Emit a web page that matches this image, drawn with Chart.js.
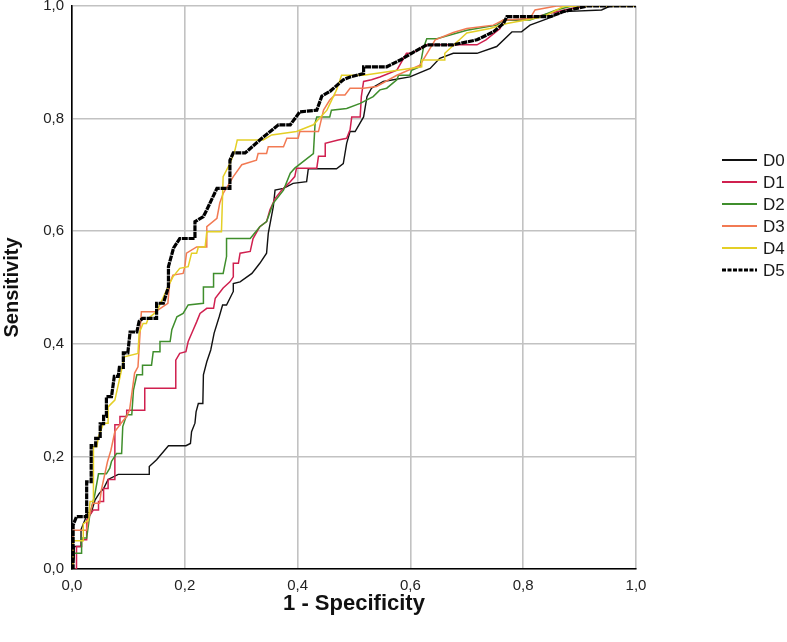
<!DOCTYPE html>
<html>
<head>
<meta charset="utf-8">
<script src="https://cdn.jsdelivr.net/npm/chart.js"></script>
<style>
  html, body { margin: 0; padding: 0; background: #fff; }
  #wrap { width: 787px; height: 642px; }
</style>
</head>
<body>
<div id="wrap"><canvas id="roc" width="787" height="642"></canvas></div>
<script>
// ROC points as [1 - specificity, sensitivity]
const d0 = [[0,0],[0.004,0.02],[0.004,0.04],[0.016,0.04],[0.016,0.07],[0.028,0.10],[0.034,0.10],[0.041,0.123],[0.048,0.134],[0.056,0.143],[0.064,0.159],[0.082,0.168],[0.137,0.168],[0.137,0.182],[0.150,0.194],[0.171,0.219],[0.202,0.219],[0.210,0.223],[0.212,0.244],[0.218,0.259],[0.220,0.279],[0.224,0.294],[0.232,0.294],[0.233,0.345],[0.239,0.368],[0.246,0.389],[0.252,0.419],[0.261,0.448],[0.267,0.469],[0.274,0.469],[0.286,0.493],[0.286,0.507],[0.298,0.510],[0.319,0.525],[0.333,0.543],[0.345,0.561],[0.348,0.596],[0.357,0.644],[0.360,0.673],[0.375,0.676],[0.392,0.685],[0.416,0.688],[0.419,0.711],[0.469,0.711],[0.481,0.720],[0.487,0.756],[0.493,0.777],[0.502,0.777],[0.517,0.803],[0.523,0.839],[0.531,0.854],[0.552,0.866],[0.599,0.874],[0.635,0.889],[0.652,0.907],[0.676,0.916],[0.718,0.916],[0.753,0.928],[0.780,0.954],[0.797,0.954],[0.812,0.966],[0.842,0.977],[0.871,0.990],[0.939,0.993],[0.954,1],[1,1]];
const d1 = [[0,0],[0.008,0],[0.008,0.04],[0.017,0.04],[0.017,0.052],[0.026,0.052],[0.026,0.087],[0.038,0.105],[0.047,0.105],[0.047,0.12],[0.056,0.12],[0.056,0.143],[0.064,0.143],[0.064,0.159],[0.076,0.159],[0.076,0.256],[0.085,0.256],[0.085,0.271],[0.097,0.271],[0.097,0.282],[0.129,0.282],[0.129,0.321],[0.184,0.321],[0.184,0.371],[0.191,0.383],[0.202,0.386],[0.206,0.404],[0.215,0.425],[0.221,0.439],[0.227,0.454],[0.239,0.463],[0.251,0.463],[0.254,0.481],[0.268,0.499],[0.280,0.51],[0.286,0.519],[0.286,0.543],[0.295,0.543],[0.298,0.561],[0.316,0.564],[0.321,0.587],[0.333,0.608],[0.345,0.617],[0.351,0.638],[0.360,0.658],[0.372,0.673],[0.387,0.688],[0.395,0.697],[0.398,0.712],[0.434,0.712],[0.437,0.733],[0.449,0.733],[0.449,0.756],[0.472,0.762],[0.487,0.765],[0.493,0.78],[0.496,0.803],[0.511,0.803],[0.513,0.839],[0.517,0.866],[0.531,0.869],[0.546,0.874],[0.576,0.886],[0.593,0.916],[0.602,0.916],[0.629,0.931],[0.718,0.931],[0.734,0.94],[0.759,0.96],[0.765,0.975],[0.800,0.975],[0.848,0.987],[0.883,0.995],[0.913,1],[1,1]];
const d2 = [[0,0],[0.002,0],[0.002,0.028],[0.017,0.028],[0.017,0.055],[0.026,0.055],[0.032,0.099],[0.040,0.13],[0.047,0.169],[0.061,0.169],[0.067,0.179],[0.070,0.191],[0.079,0.205],[0.088,0.205],[0.090,0.253],[0.097,0.274],[0.106,0.274],[0.109,0.318],[0.115,0.345],[0.125,0.345],[0.125,0.362],[0.141,0.362],[0.144,0.386],[0.156,0.386],[0.156,0.404],[0.174,0.404],[0.177,0.425],[0.186,0.448],[0.197,0.454],[0.206,0.469],[0.233,0.472],[0.233,0.501],[0.251,0.501],[0.251,0.525],[0.268,0.525],[0.274,0.555],[0.274,0.587],[0.316,0.587],[0.333,0.608],[0.345,0.617],[0.357,0.65],[0.375,0.673],[0.387,0.703],[0.395,0.712],[0.428,0.738],[0.431,0.792],[0.434,0.803],[0.457,0.803],[0.460,0.815],[0.487,0.818],[0.511,0.827],[0.534,0.839],[0.546,0.851],[0.558,0.854],[0.576,0.869],[0.579,0.877],[0.599,0.877],[0.602,0.886],[0.617,0.892],[0.623,0.925],[0.629,0.942],[0.647,0.942],[0.700,0.957],[0.753,0.966],[0.765,0.975],[0.812,0.975],[0.836,0.984],[0.859,0.993],[0.883,0.999],[0.900,1],[1,1]];
const d3 = [[0,0],[0.002,0],[0.002,0.069],[0.026,0.069],[0.028,0.084],[0.037,0.117],[0.049,0.117],[0.052,0.14],[0.063,0.191],[0.069,0.211],[0.076,0.244],[0.087,0.259],[0.096,0.27],[0.102,0.282],[0.111,0.348],[0.117,0.359],[0.123,0.457],[0.148,0.457],[0.170,0.472],[0.173,0.507],[0.179,0.522],[0.197,0.525],[0.200,0.537],[0.203,0.561],[0.221,0.572],[0.239,0.572],[0.239,0.608],[0.257,0.623],[0.262,0.65],[0.268,0.667],[0.286,0.697],[0.301,0.718],[0.327,0.726],[0.330,0.738],[0.345,0.738],[0.348,0.75],[0.375,0.75],[0.381,0.765],[0.401,0.765],[0.404,0.777],[0.437,0.777],[0.446,0.815],[0.457,0.833],[0.466,0.842],[0.484,0.842],[0.493,0.854],[0.517,0.854],[0.540,0.857],[0.576,0.877],[0.617,0.895],[0.644,0.94],[0.676,0.953],[0.700,0.96],[0.747,0.966],[0.765,0.975],[0.812,0.978],[0.821,0.993],[0.859,1],[1,1]];
const d4 = [[0,0],[0.002,0],[0.002,0.05],[0.020,0.05],[0.020,0.08],[0.029,0.087],[0.032,0.12],[0.038,0.12],[0.038,0.217],[0.044,0.217],[0.047,0.235],[0.056,0.259],[0.064,0.259],[0.064,0.288],[0.076,0.30],[0.093,0.377],[0.117,0.383],[0.119,0.419],[0.126,0.436],[0.132,0.436],[0.135,0.445],[0.150,0.457],[0.173,0.507],[0.179,0.519],[0.191,0.534],[0.206,0.537],[0.212,0.561],[0.221,0.561],[0.224,0.572],[0.236,0.572],[0.239,0.599],[0.265,0.599],[0.268,0.697],[0.280,0.72],[0.289,0.744],[0.293,0.762],[0.339,0.762],[0.354,0.771],[0.398,0.777],[0.428,0.789],[0.452,0.815],[0.469,0.851],[0.478,0.877],[0.517,0.877],[0.599,0.889],[0.620,0.892],[0.620,0.904],[0.661,0.904],[0.661,0.916],[0.700,0.952],[0.741,0.96],[0.771,0.969],[0.836,0.981],[0.871,0.999],[0.900,1],[1,1]];
const d5 = [[0,0],[0.002,0],[0.002,0.078],[0.008,0.093],[0.026,0.093],[0.026,0.155],[0.034,0.155],[0.034,0.219],[0.042,0.219],[0.042,0.232],[0.050,0.232],[0.050,0.258],[0.056,0.258],[0.056,0.271],[0.061,0.271],[0.061,0.306],[0.070,0.306],[0.075,0.342],[0.082,0.342],[0.084,0.358],[0.091,0.358],[0.091,0.384],[0.099,0.384],[0.103,0.421],[0.115,0.421],[0.119,0.44],[0.125,0.445],[0.150,0.445],[0.150,0.472],[0.162,0.472],[0.171,0.501],[0.171,0.537],[0.180,0.57],[0.191,0.587],[0.218,0.587],[0.218,0.617],[0.233,0.626],[0.239,0.638],[0.257,0.676],[0.280,0.676],[0.280,0.726],[0.286,0.739],[0.307,0.739],[0.333,0.762],[0.366,0.789],[0.387,0.789],[0.404,0.812],[0.434,0.815],[0.443,0.84],[0.457,0.848],[0.481,0.869],[0.493,0.874],[0.517,0.88],[0.517,0.892],[0.558,0.892],[0.582,0.904],[0.602,0.916],[0.629,0.931],[0.676,0.931],[0.718,0.94],[0.747,0.954],[0.765,0.969],[0.771,0.981],[0.848,0.981],[0.871,0.99],[0.913,1],[1,1]];

const seriesNames = ["D0", "D1", "D2", "D3", "D4", "D5"];
const seriesData = [d0, d1, d2, d3, d4, d5];
const tickValues = [0, 0.2, 0.4, 0.6, 0.8, 1.0];
const tickLabels = ["0,0", "0,2", "0,4", "0,6", "0,8", "1,0"];

const colores = ["#111111", "#d0204f", "#3f8e2c", "#f27a53", "#e4cf26", "#000000"];
const grosor = [1.4, 1.5, 1.5, 1.5, 1.5, 3.2];
const fuente = "'Liberation Sans Narrow', 'Liberation Sans', Arial, sans-serif";
const tickFont = { family: fuente, size: 15 };

const datasets = seriesData.map((pts, i) => ({
    label: seriesNames[i],
    data: pts.map(p => ({ x: p[0], y: p[1] })),
    borderColor: colores[i],
    borderWidth: grosor[i],
    borderDash: i === 5 ? [6, 0.8] : [],
    showLine: true,
    pointRadius: 0,
    tension: 0,
    order: 5 - i
}));

// leyenda dibujada a mano a la derecha del área del gráfico
const leyenda = {
    id: "leyenda",
    afterDraw(chart) {
        const ctx = chart.ctx;
        const x0 = chart.chartArea.right + 86;
        ctx.save();
        ctx.font = "17px 'Liberation Sans', Arial, sans-serif";
        ctx.textBaseline = "middle";
        datasets.forEach((ds, i) => {
            const y = 160 + i * 22;
            ctx.strokeStyle = ds.borderColor;
            ctx.lineWidth = i === 5 ? 3 : 2;
            ctx.setLineDash(i === 5 ? [4, 1.5] : []);
            ctx.beginPath();
            ctx.moveTo(x0, y);
            ctx.lineTo(x0 + 35, y);
            ctx.stroke();
            ctx.setLineDash([]);
            ctx.fillStyle = "#1a1a1a";
            ctx.fillText(ds.label, x0 + 41, y + 1);
        });
        ctx.restore();
    }
};

const fijarTicks = s => { s.ticks = tickValues.map(v => ({ value: v })); };
const etiqueta = v => tickLabels[tickValues.findIndex(t => Math.abs(t - v) < 1e-6)];

new Chart(document.getElementById("roc"), {
    type: "scatter",
    data: { datasets: datasets },
    plugins: [leyenda],
    options: {
        responsive: false,
        animation: false,
        layout: { padding: { top: 6, right: 151, bottom: 0, left: 0 } },
        plugins: { legend: { display: false }, tooltip: { enabled: false } },
        scales: {
            x: {
                type: "linear",
                min: 0, max: 1,
                afterBuildTicks: fijarTicks,
                afterFit: s => { s.height = 73; s.paddingLeft = 0; s.paddingRight = 0; },
                grid: { color: "#c2c2c2", lineWidth: 1.6, drawTicks: false },
                border: { color: "#000", width: 1.6 },
                ticks: { padding: 8, color: "#222", font: tickFont, maxRotation: 0, callback: etiqueta },
                title: {
                    display: true, text: "1 - Specificity", color: "#111",
                    font: { family: fuente, size: 22, weight: "bold" },
                    padding: { top: 0, bottom: 25 }
                }
            },
            y: {
                type: "linear",
                min: 0, max: 1,
                afterBuildTicks: fijarTicks,
                afterFit: s => { s.width = 72; s.paddingTop = 0; s.paddingBottom = 0; },
                grid: { color: "#c2c2c2", lineWidth: 1.6, drawTicks: false },
                border: { color: "#000", width: 1.6 },
                ticks: { padding: 8, color: "#222", font: tickFont, callback: etiqueta },
                title: {
                    display: true, text: "Sensitivity", color: "#111",
                    font: { family: fuente, size: 20, weight: "bold" },
                    padding: { top: 0, bottom: 0 }
                }
            }
        }
    }
});
</script>
</body>
</html>
